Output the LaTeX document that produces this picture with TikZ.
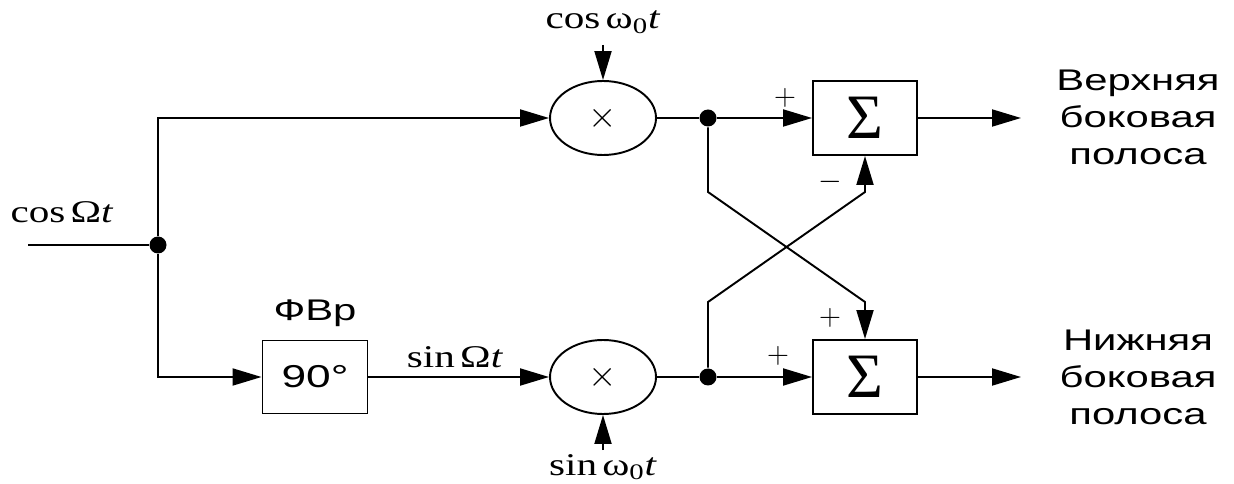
\documentclass[tikz,border=0pt]{standalone}
\usepackage{fontspec}
\setmainfont{Liberation Sans}
\newfontfamily\widesans[FakeStretch=1.4]{Liberation Sans}
\newfontfamily\wideserif[FakeStretch=1.3]{Liberation Serif}
\newfontfamily\sigmaserif{Liberation Serif}
\usepackage{amsmath}
\usetikzlibrary{arrows.meta,shapes.geometric,positioning}

\begin{document}
\begin{tikzpicture}[
  line width=1.1pt,
  mixer/.style={
    ellipse, draw,
    minimum width=2.12cm,
    minimum height=1.48cm,
    font=\fontsize{20}{20}\selectfont
  },
  sumbox/.style={
    draw, minimum width=2.08cm,
    minimum height=1.48cm, inner sep=0pt,
    font=\sigmaserif\fontsize{36}{36}\selectfont
  },
  shiftbox/.style={
    draw, minimum width=2.10cm,
    minimum height=1.46cm,
    font=\widesans\fontsize{18}{18}\selectfont
  },
  arrow/.style={
    -{Triangle[length=0.58cm,width=0.34cm]}},
  dot/.style={
    circle, fill, inner sep=0pt,
    minimum size=0.34cm},
  mathlbl/.style={
    font=\wideserif\fontsize{18}{20}\selectfont, inner sep=1pt},
  sign/.style={
    font=\fontsize{18}{18}\selectfont, inner sep=1pt},
  outlbl/.style={
    align=center,
    font=\widesans\fontsize{17}{21}\selectfont}
]
\useasboundingbox (0,0) rectangle (24.68,-9.68);

% input and splitting
\coordinate (in) at (0.56,-4.90);
\node[dot] (split) at (3.16,-4.90) {};
\node[mathlbl] (inlbl) at (1.24,-4.24) {cos\,Ω\textit{t}};

% multipliers
\node[mixer] (mixup) at (12.06,-2.36) {$\times$};
\node[mixer] (mixlo) at (12.06,-7.54) {$\times$};
\node[mathlbl] (carcos) at (12.06,-0.44) {cos\,ω\textsubscript{0}\textit{t}};
\node[mathlbl] (carsin) at (12.06,-9.34) {sin\,ω\textsubscript{0}\textit{t}};
\coordinate (carcosin) at (12.06,-0.90);
\coordinate (carsinin) at (12.06,-9.00);

% phase shifter
\node[shiftbox] (shift) at (6.30,-7.54) {90°};
\node[outlbl, above=0.12cm of shift] (shiftlbl) {ФВр};
\node[mathlbl] (sinlbl) at (9.10,-7.14) {sin\,Ω\textit{t}};

% taps, adders
\node[dot] (tapup) at (14.16,-2.36) {};
\node[dot] (taplo) at (14.16,-7.54) {};
\node[sumbox] (sumup) at (17.30,-2.36) {Σ};
\node[sumbox] (sumlo) at (17.30,-7.54) {Σ};
\coordinate (xa) at (14.16,-3.84);
\coordinate (xb) at (17.30,-6.04);
\coordinate (xc) at (14.16,-6.04);
\coordinate (xd) at (17.30,-3.84);

% outputs
\coordinate (outup) at (20.42,-2.36);
\coordinate (outlo) at (20.42,-7.54);
\node[outlbl] (usb) at (22.76,-2.34)
  {Верхняя\\боковая\\полоса};
\node[outlbl] (lsb) at (22.76,-7.54)
  {Нижняя\\боковая\\полоса};

% signs
\node[sign] (p1) at (15.70,-1.96) {$+$};
\node[sign] (m1) at (16.60,-3.64) {$-$};
\node[sign] (p2) at (16.60,-6.36) {$+$};
\node[sign] (p3) at (15.56,-7.12) {$+$};

% connections
\draw (in) -- (split);
\draw[arrow] (split) |- (mixup);
\draw[arrow] (split) |- (shift);
\draw[arrow] (shift) -- (mixlo);
\draw[arrow] (carcosin) -- (mixup);
\draw[arrow] (carsinin) -- (mixlo);
\draw (mixup) -- (tapup);
\draw (mixlo) -- (taplo);
\draw[arrow] (tapup) -- (sumup);
\draw[arrow] (taplo) -- (sumlo);
\draw[arrow] (tapup) -- (xa) -- (xb) -- (sumlo);
\draw[arrow] (taplo) -- (xc) -- (xd) -- (sumup);
\draw[arrow] (sumup) -- (outup);
\draw[arrow] (sumlo) -- (outlo);
\end{tikzpicture}
\end{document}
